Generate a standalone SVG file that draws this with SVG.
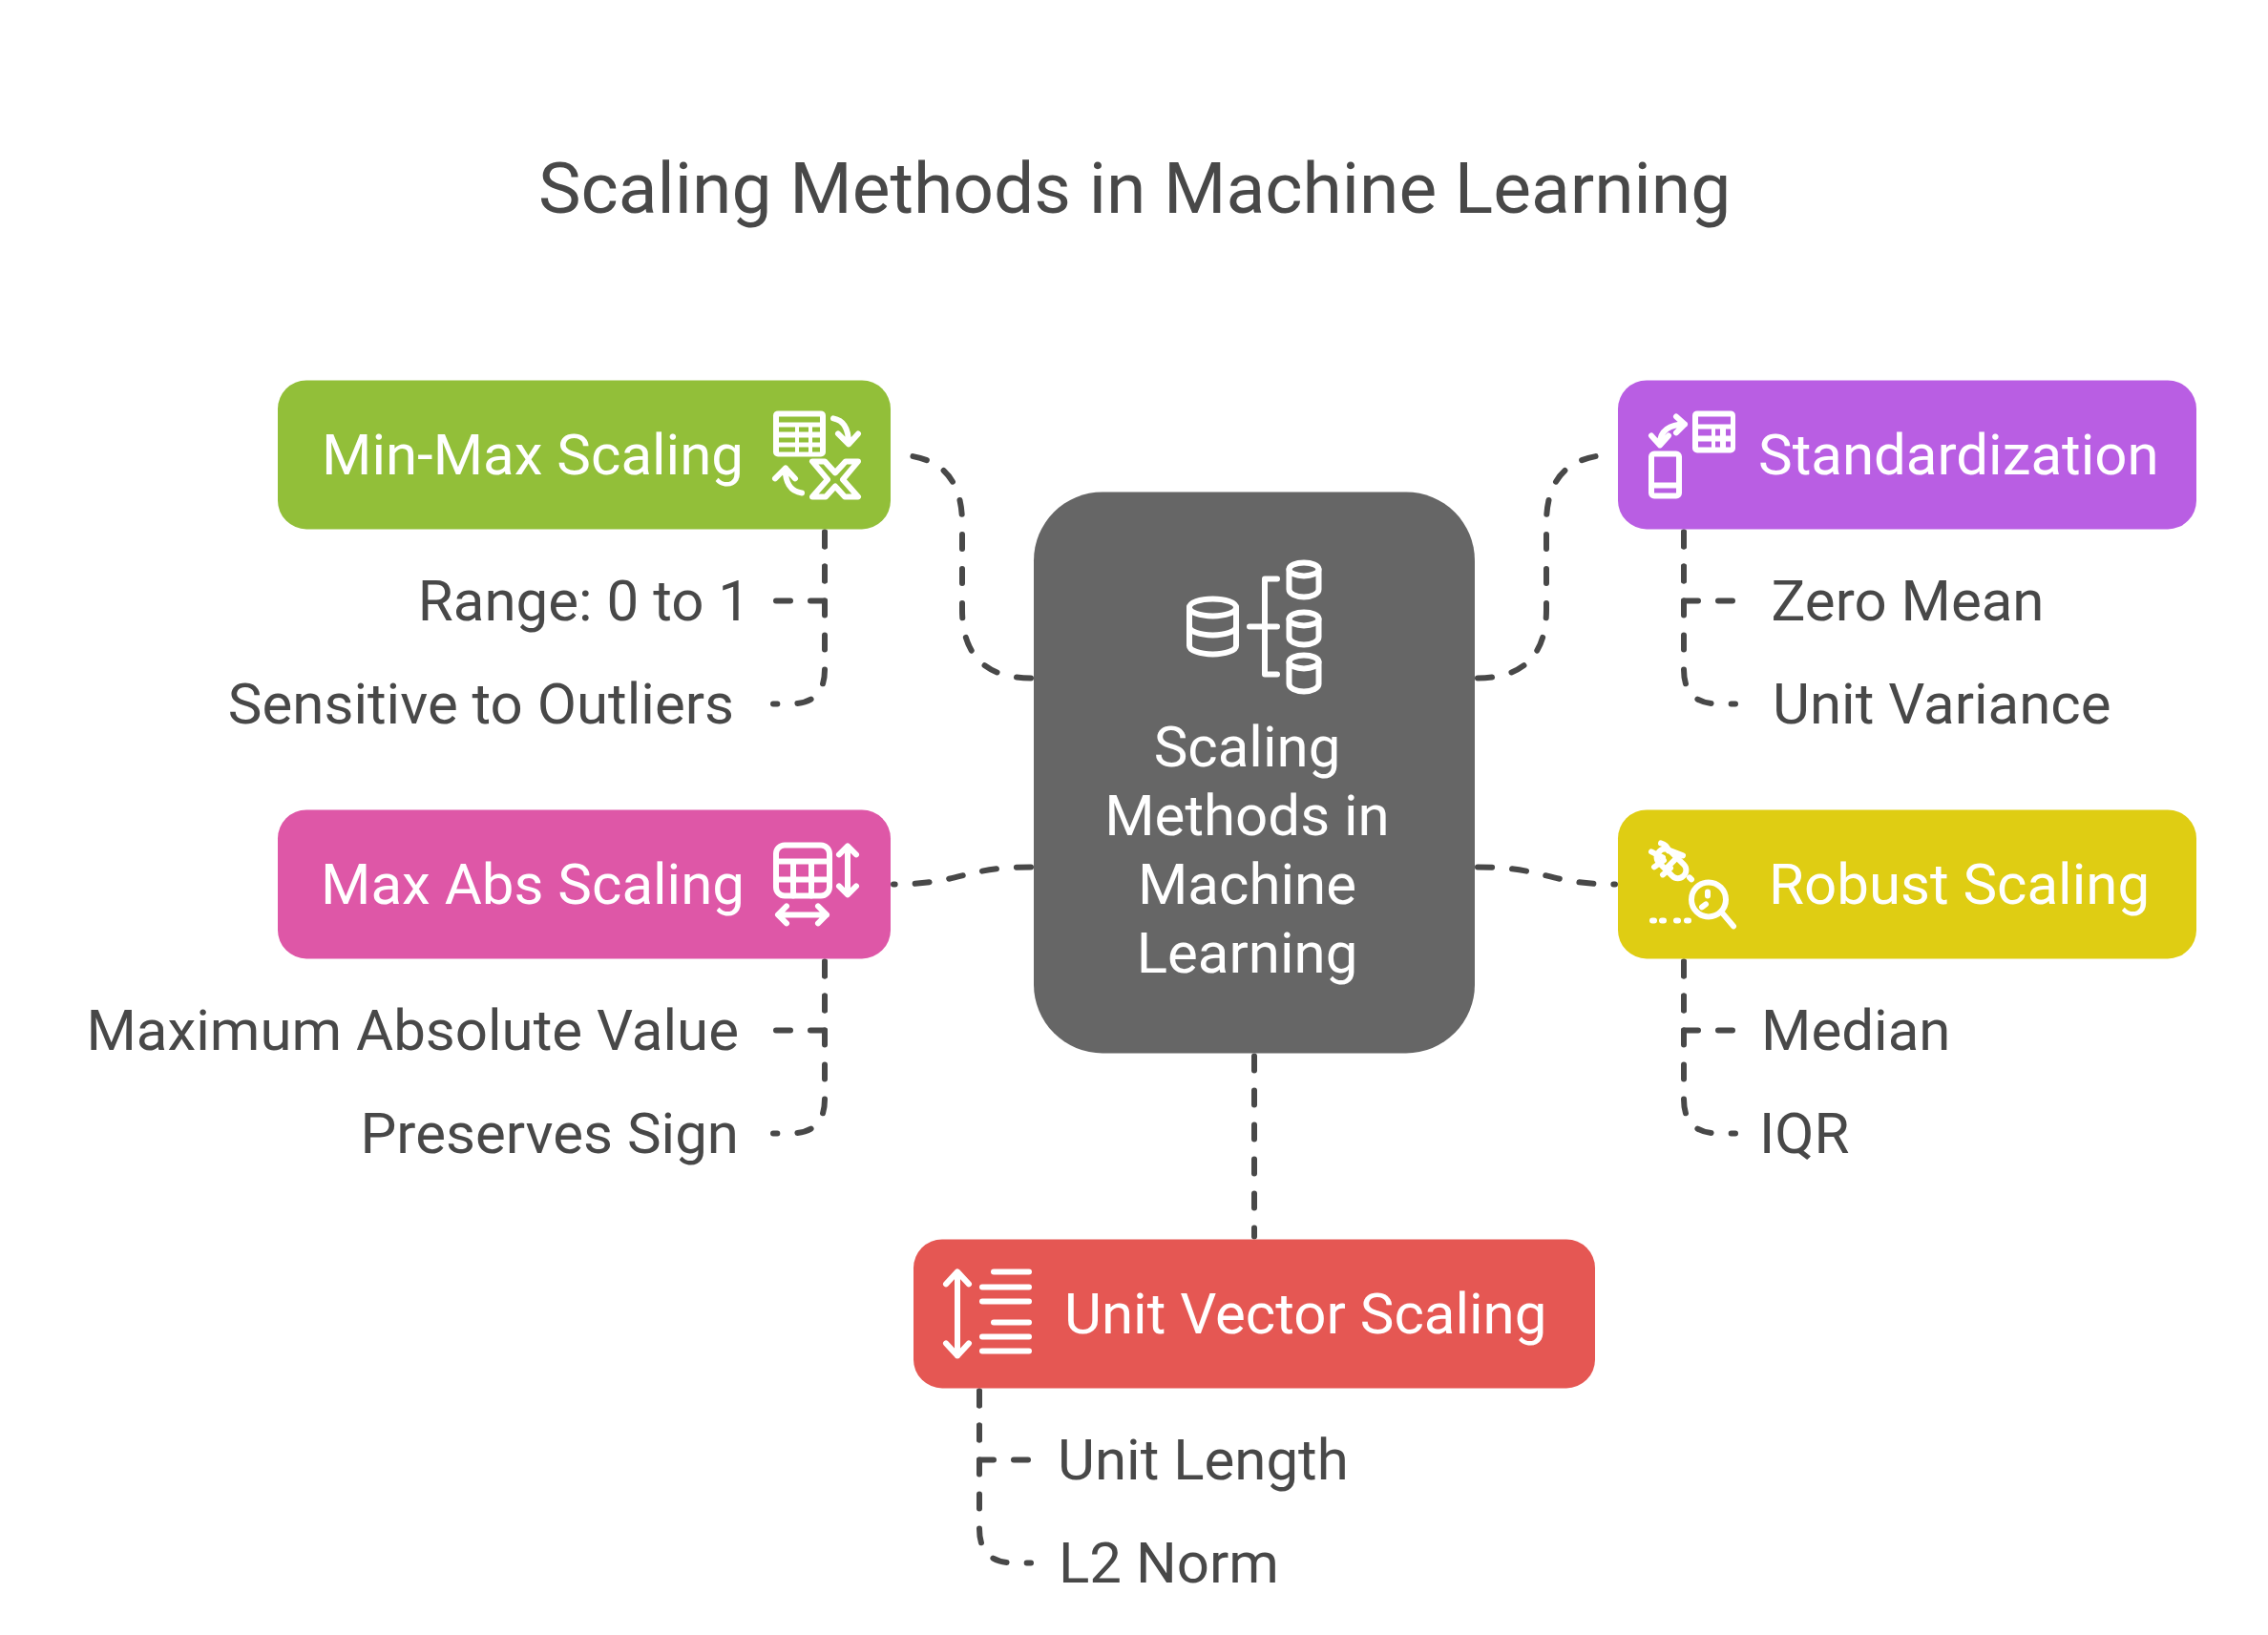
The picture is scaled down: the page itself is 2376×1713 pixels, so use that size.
<svg xmlns="http://www.w3.org/2000/svg" width="2376" height="1713" viewBox="0 0 2376 1713">
<style>
text{font-family:Roboto,"Liberation Sans",sans-serif;font-size:60px}
.w{fill:#fff}.d{fill:#484848}
.c{fill:none;stroke:#484848;stroke-width:6;stroke-dasharray:15 21;stroke-linecap:round}
.i{fill:none;stroke:#fff;stroke-width:6;stroke-linecap:round;stroke-linejoin:round}
</style>
<rect width="2376" height="1713" fill="#fff"/>
<g id="all" transform="translate(0 -0.6)">
<text x="564" y="224" class="d" style="font-size:75px">Scaling Methods in Machine Learning</text>
<g id="connectors">
<path class="c" d="M1080 711Q1008 711 1008 639V549Q1008 477 936 477"/>
<path class="c" d="M1548 711Q1620 711 1620 639V549Q1620 477 1692 477"/>
<path class="c" d="M1080 909C1008 909 1008 927 936 927"/>
<path class="c" d="M1548 909C1620 909 1620 927 1692 927"/>
<path class="c" d="M1314 1107V1296"/>
<path class="c" d="M864 558V630H810"/>
<path class="c" d="M864 558V702Q864 738 828 738H810"/>
<path class="c" d="M864 1008V1080H810"/>
<path class="c" d="M864 1008V1152Q864 1188 828 1188H810"/>
<path class="c" d="M1764 558V630H1818"/>
<path class="c" d="M1764 558V702Q1764 738 1800 738H1818"/>
<path class="c" d="M1764 1008V1080H1818"/>
<path class="c" d="M1764 1008V1152Q1764 1188 1800 1188H1818"/>
<path class="c" d="M1026 1458V1530H1080"/>
<path class="c" d="M1026 1458V1602Q1026 1638 1062 1638H1080"/>
</g>
<g id="center">
<rect x="1083" y="516" width="462" height="588" rx="72" fill="#666"/>
<g class="i">
<ellipse cx="1270.500" cy="637" rx="24.500" ry="9"/>
<path d="M1246 637V677A24.500 9 0 0 0 1295 677V637M1246 657A24.500 9 0 0 0 1295 657"/>
<path d="M1309 657H1338M1338 607H1325V707H1338"/>
<ellipse cx="1366" cy="597" rx="15.500" ry="7"/>
<path d="M1350.500 597V618A15.500 8 0 0 0 1381.500 618V597"/>
<ellipse cx="1366" cy="649" rx="15.500" ry="7"/>
<path d="M1350.500 649V668A15.500 8 0 0 0 1381.500 668V649"/>
<ellipse cx="1366" cy="694" rx="15.500" ry="7"/>
<path d="M1350.500 694V717A15.500 8 0 0 0 1381.500 717V694"/>
</g>
<text class="w" text-anchor="middle" x="1306.500" y="804">Scaling</text>
<text class="w" text-anchor="middle" x="1306.500" y="876">Methods in</text>
<text class="w" text-anchor="middle" x="1306.500" y="948">Machine</text>
<text class="w" text-anchor="middle" x="1306.500" y="1020">Learning</text>
</g>
<g id="minmax">
<rect x="291" y="399" width="642" height="156" rx="30" fill="#92bf39"/>
<text class="w" x="337" y="498">Min-Max Scaling</text>
<rect x="810" y="431" width="55" height="48" rx="5" fill="#fff"/>
<path fill="#92bf39" d="M816 437h43v6h-43zM816 448h17v5h-17zM837 448h10v5h-10zM851 448h8v5h-8zM816 459h17v5h-17zM837 459h10v5h-10zM851 459h8v5h-8zM816 469h17v5h-17zM837 469h10v5h-10zM851 469h8v5h-8z"/>
<path class="i" d="M873 439C884 441 889 450 889 465M878 455L889 466L899 455M823 491C822 505 828 516 840 517M812 502L823 491L833 502"/>
<path class="i" d="M851 484H864L875 496L886 484H899L883 503L899 521H885L875 510L865 521H851L867 503Z"/>
<text class="d" text-anchor="end" x="786" y="651">Range: 0 to 1</text>
<text class="d" text-anchor="end" x="769" y="759">Sensitive to Outliers</text>
</g>
<g id="standardization">
<rect x="1695" y="399" width="606" height="156" rx="30" fill="#b95ee3"/>
<text class="w" x="1842" y="498">Standardization</text>
<rect x="1773" y="431" width="45" height="44" rx="5" fill="#fff"/>
<path fill="#b95ee3" d="M1779 437h34v8h-34zM1779 450h14v7h-14zM1797 450h5v7h-5zM1808 450h5v7h-5zM1779 463h14v6h-14zM1797 463h5v6h-5zM1808 463h5v6h-5z"/>
<rect class="i" x="1730" y="476" width="29" height="44" rx="3"/>
<path class="i" d="M1730 509H1759M1730 457L1739 467L1748 457M1739 465C1739 452 1749 445 1765 445M1756 437L1765 445L1756 454"/>
<text class="d" x="1855.500" y="651">Zero Mean</text>
<text class="d" x="1857" y="759">Unit Variance</text>
</g>
<g id="maxabs">
<rect x="291" y="849" width="642" height="156" rx="30" fill="#de57a7"/>
<text class="w" x="336" y="948">Max Abs Scaling</text>
<g class="i">
<rect x="813" y="886" width="56" height="53" rx="9"/>
<path d="M813 903H869M813 922H869M831 903V939M850 903V939"/>
<path d="M888 888V937M879 896L888 887L897 896M879 929L888 938L897 929M816 959H866M824 950L815 959L824 968M857 950L866 959L857 968"/>
</g>
<text class="d" text-anchor="end" x="774" y="1101">Maximum Absolute Value</text>
<text class="d" text-anchor="end" x="774" y="1209">Preserves Sign</text>
</g>
<g id="robust">
<rect x="1695" y="849" width="606" height="156" rx="30" fill="#dfcd13"/>
<text class="w" x="1853" y="948">Robust Scaling</text>
<g class="i">
<circle cx="1790" cy="943" r="18"/>
<path d="M1805 958L1816 971M1789 935V939M1783 951L1787 948"/>
<path d="M1731 965H1733M1741 965H1743M1756 965H1758M1767 965H1769M1770 920L1772 922"/>
<rect x="1733" y="897" width="36" height="17" rx="8" transform="rotate(45 1751 905.500)"/>
<path d="M1745 911L1757 899M1733 909L1743 902M1742 917L1750 910M1740 884C1744 885 1747 888 1748 892M1730 893L1742 899M1750 892L1763 897"/>
</g>
<text class="d" x="1845" y="1101">Median</text>
<text class="d" x="1843" y="1209">IQR</text>
</g>
<g id="unitvector">
<rect x="957" y="1299" width="714" height="156" rx="30" fill="#e55753"/>
<text class="w" x="1115" y="1398">Unit Vector Scaling</text>
<g class="i">
<path d="M1003 1334V1421M991 1346L1003 1333L1015 1346M991 1408L1003 1421L1015 1408"/>
<path d="M1041 1333H1078M1029 1349H1078M1029 1364H1078M1041 1386H1078M1029 1401H1078M1029 1416H1078"/>
</g>
<text class="d" x="1108" y="1550.500">Unit Length</text>
<text class="d" x="1109" y="1659">L2 Norm</text>
</g>
</g>
</svg>
